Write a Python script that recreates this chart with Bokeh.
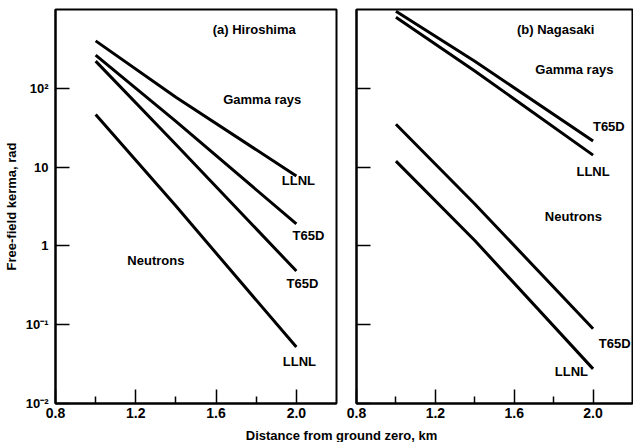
from bokeh.plotting import figure
from bokeh.models import FixedTicker, Label, Range1d
from bokeh.layouts import column, row
from bokeh.embed import file_html
from bokeh.resources import INLINE

# ---- data ----
dist = [1.0, 1.4, 2.0]

hiro_gamma_llnl = [400, 77, 7.7]
hiro_gamma_t65d = [263, 38, 1.9]
hiro_neut_t65d = [221, 19.4, 0.48]
hiro_neut_llnl = [46.5, 3.2, 0.052]

naga_gamma_t65d = [950, 220, 21.5]
naga_gamma_llnl = [800, 166, 14.2]
naga_neut_t65d = [35, 3.4, 0.089]
naga_neut_llnl = [11.9, 1.17, 0.0275]

x_major = [0.8, 1.2, 1.6, 2.0]
x_minor = [1.0, 1.4, 1.8]
y_ticks = [0.01, 0.1, 1, 10, 100]
y_tick_labels = {0.01: "10\u207b\u00b2", 0.1: "10\u207b\u00b9", 1: "1", 10: "10", 100: "10\u00b2"}

FONT = "Liberation Sans"


def make_panel(width, border_left, border_right, show_ylabels):
    p = figure(width=width, height=428, x_range=Range1d(0.8, 2.2),
               y_range=Range1d(0.01, 1000), y_axis_type="log",
               output_backend="svg", toolbar_location=None,
               min_border_left=border_left, min_border_right=border_right,
               min_border_top=9, min_border_bottom=25)
    p.grid.visible = False
    p.outline_line_color = "black"
    p.outline_line_width = 2
    p.background_fill_color = "white"
    p.border_fill_color = "white"

    xa = p.xaxis[0]
    xa.ticker = FixedTicker(ticks=x_major, minor_ticks=x_minor)
    xa.major_tick_in = 14
    xa.major_tick_out = 0
    xa.minor_tick_in = 7
    xa.minor_tick_out = 0
    xa.axis_line_width = 2
    xa.major_tick_line_width = 1.5
    xa.minor_tick_line_width = 1.5
    xa.major_label_text_font = FONT
    xa.major_label_text_font_style = "bold"
    xa.major_label_text_font_size = "14px"
    xa.major_label_text_color = "black"
    xa.major_label_standoff = 4
    xa.major_label_overrides = {0.8: "0.8", 1.2: "1.2", 1.6: "1.6", 2.0: "2.0"}

    ya = p.yaxis[0]
    ya.ticker = FixedTicker(ticks=y_ticks, minor_ticks=[])
    ya.major_tick_in = 14
    ya.major_tick_out = 0
    ya.axis_line_width = 2
    ya.major_tick_line_width = 1.5
    if show_ylabels:
        ya.major_label_overrides = y_tick_labels
        ya.major_label_text_font = FONT
        ya.major_label_text_font_style = "bold"
        ya.major_label_text_font_size = "13px"
        ya.major_label_text_color = "black"
        ya.major_label_standoff = 7
        ya.axis_label = "Free-field kerma, rad"
        ya.axis_label_text_font = FONT
        ya.axis_label_text_font_style = "bold"
        ya.axis_label_text_font_size = "13px"
        ya.axis_label_text_color = "black"
        ya.axis_label_standoff = 4
    else:
        ya.major_label_overrides = {t: "" for t in y_ticks}
        ya.major_label_text_font_size = "2px"
        ya.major_label_standoff = 0
    return p


def add_text(p, x, y, text, align="center"):
    p.add_layout(Label(x=x, y=y, text=text, text_font=FONT, text_font_style="bold",
                       text_font_size="13px", text_color="black",
                       text_align=align, text_baseline="middle"))


# ---- (a) Hiroshima ----
p1 = make_panel(344, 52, 8, True)
for ys in (hiro_gamma_llnl, hiro_gamma_t65d, hiro_neut_t65d, hiro_neut_llnl):
    p1.line(dist, ys, line_color="black", line_width=3)
add_text(p1, 1.79, 10 ** 2.75, "(a) Hiroshima")
add_text(p1, 1.83, 10 ** 1.86, "Gamma rays")
add_text(p1, 2.01, 10 ** 0.83, "LLNL")
add_text(p1, 2.06, 10 ** 0.13, "T65D")
add_text(p1, 1.30, 10 ** -0.19, "Neutrons")
add_text(p1, 2.03, 10 ** -0.48, "T65D")
add_text(p1, 2.015, 10 ** -1.47, "LLNL")

# ---- (b) Nagasaki ----
p2 = make_panel(289, 12, 1, False)
for ys in (naga_gamma_t65d, naga_gamma_llnl, naga_neut_t65d, naga_neut_llnl):
    p2.line(dist, ys, line_color="black", line_width=3)
add_text(p2, 1.81, 10 ** 2.75, "(b) Nagasaki")
add_text(p2, 1.905, 10 ** 2.24, "Gamma rays")
add_text(p2, 2.08, 10 ** 1.52, "T65D")
add_text(p2, 2.0, 10 ** 0.95, "LLNL")
add_text(p2, 1.90, 10 ** 0.37, "Neutrons")
add_text(p2, 2.11, 10 ** -1.24, "T65D")
add_text(p2, 1.89, 10 ** -1.6, "LLNL")

# ---- shared x-axis title ----
p3 = figure(width=633, height=14, x_range=Range1d(0, 633), y_range=Range1d(0, 14),
            x_axis_type=None, y_axis_type=None, output_backend="svg",
            toolbar_location=None, min_border=0)
p3.grid.visible = False
p3.outline_line_color = None
p3.add_layout(Label(x=341, y=7, text="Distance from ground zero, km", text_font=FONT,
                    text_font_style="bold", text_font_size="13px", text_color="black",
                    text_align="center", text_baseline="middle"))

layout = column(row(p1, p2), p3)
open("out.html", "w").write(file_html(layout, INLINE))
